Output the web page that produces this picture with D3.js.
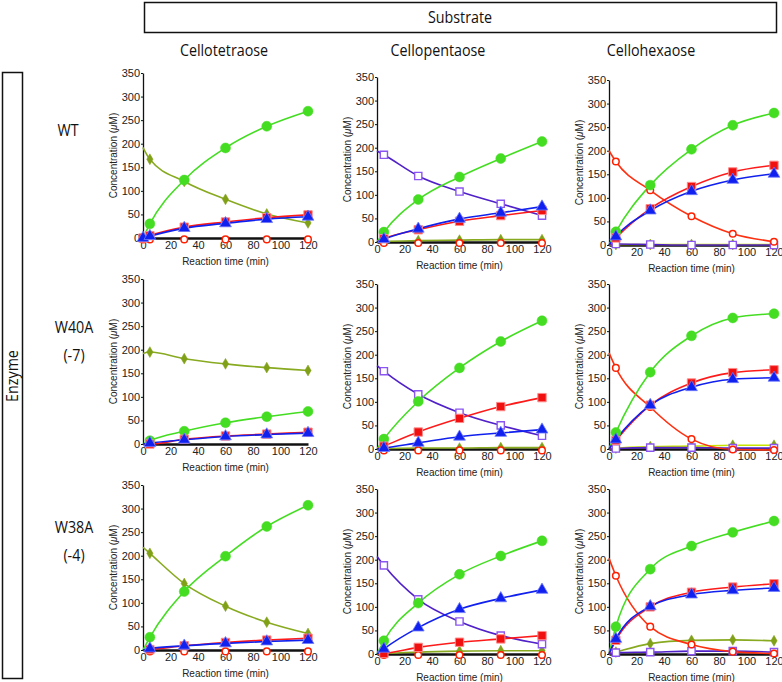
<!DOCTYPE html>
<html>
<head>
<meta charset="utf-8">
<script src="https://cdn.jsdelivr.net/npm/d3@7"></script>
<style>
  body { margin: 0; background: #fff; }
  svg { display: block; }
  .tick text { font-family: "Liberation Sans", Arial, sans-serif; font-size: 11px; fill: #222; }
  .ax-label { font-family: "Liberation Sans", Arial, sans-serif; font-size: 10px; fill: #222; }
  .big { font-family: "Liberation Sans Narrow", "Open Sans", sans-serif; font-size: 17px; fill: #111; }
</style>
</head>
<body>
<div id="chart"></div>
<script>
// sampling times (min); markers from 5 min, fitted line from 0
const times = [0, 5, 30, 60, 90, 120]
const substrates = ['Cellotetraose', 'Cellopentaose', 'Cellohexaose']
const enzymes = ['WT', 'W40A', 'W38A']
const enzymeNotes = ['', '(-7)', '(-4)']
const xTicks = [0, 20, 40, 60, 80, 100, 120]
const yTicks = [0, 50, 100, 150, 200, 250, 300, 350]

// concentrations (uM), one object per enzyme x substrate panel
const wtG4 = {
  G4: [192, 167, 120, 82, 51, 32],
  G6: [-3, -3, -3, -3, -3, -3],
  G2: [0, 30, 123, 191, 237, 269],
  G1: [0, 5, 23, 34, 43, 49],
  G3: [0, 4, 21, 31, 40, 45]
}
const wtG5 = {
  G4: [0, 1, 3, 4, 5, 5],
  G5: [193, 185, 140, 107, 81, 56],
  G6: [-2, -2, -2, -2, -2, -2],
  G2: [0, 21, 90, 138, 177, 213],
  G1: [0, 7, 26, 44, 56, 67],
  G3: [0, 6, 28, 49, 62, 75]
}
const wtG6 = {
  G4: [0, 1, 1, 1, 1, 1],
  G5: [0, 2, 1, 0, 0, 0],
  G6: [200, 177, 116, 61, 24, 7],
  G2: [0, 28, 127, 203, 254, 280],
  G1: [0, 15, 77, 124, 155, 169],
  G3: [0, 18, 73, 114, 138, 151]
}
const w40aG4 = {
  G4: [192, 195, 181, 170, 162, 156],
  G2: [0, 7, 27, 45, 58, 69],
  G1: [0, 0, 10, 17, 21, 25],
  G3: [0, 2, 9, 16, 20, 23]
}
const w40aG5 = {
  G4: [0, 1, 2, 2, 3, 3],
  G5: [177, 165, 116, 77, 50, 28],
  G6: [-3, -3, -3, -3, -3, -3],
  G2: [0, 21, 101, 172, 228, 272],
  G1: [0, 6, 36, 65, 90, 109],
  G3: [0, 2, 13, 26, 34, 41]
}
const w40aG6 = {
  G4: [0, 2, 5, 6, 8, 8],
  G5: [0, 1, 3, 3, 2, 2],
  G6: [204, 172, 89, 21, -1, -2],
  G2: [0, 35, 163, 240, 278, 287],
  G1: [0, 18, 93, 140, 162, 168],
  G3: [0, 20, 93, 131, 148, 151]
}
const w38aG4 = {
  G4: [218, 205, 141, 93, 59, 35],
  G6: [-3, -3, -3, -3, -3, -3],
  G2: [0, 27, 124, 199, 262, 307],
  G1: [0, 1, 9, 16, 21, 25],
  G3: [0, 3, 9, 14, 18, 21]
}
const w38aG5 = {
  G4: [0, 1, 4, 6, 7, 7],
  G5: [207, 188, 116, 69, 39, 21],
  G6: [-2, -2, -2, -2, -2, -2],
  G2: [0, 28, 108, 169, 208, 240],
  G1: [0, 1, 14, 25, 32, 39],
  G3: [0, 11, 56, 95, 118, 136]
}
const w38aG6 = {
  G4: [0, 4, 22, 29, 30, 28],
  G5: [0, 3, 4, 6, 6, 4],
  G6: [203, 166, 58, 20, 5, 1],
  G2: [0, 58, 180, 229, 258, 282],
  G1: [0, 29, 100, 131, 142, 149],
  G3: [0, 32, 101, 126, 135, 140]
}
const panels = [
  [wtG4, wtG5, wtG6],
  [w40aG4, w40aG5, w40aG6],
  [w38aG4, w38aG5, w38aG6]
]

const width = 782
const height = 682
const colLeft = [143, 377, 609]
const rowTop = [[73, 77, 80], [279, 284, 284], [485, 489, 489]]
const plotW = 165
const plotH = 165

// marker / line look for each product
const styles = {
  G1: { line: '#ff1a1a', shape: d3.symbolSquare, size: 70, fill: '#f01010', stroke: '#ff8a8a', sw: 1 },
  G2: { line: '#44dd22', shape: d3.symbolCircle, size: 78, fill: '#44dd22', stroke: '#44dd22', sw: 0.5 },
  G3: { line: '#1020ee', shape: d3.symbolTriangle, size: 60, fill: '#1020ee', stroke: '#6f7bff', sw: 0.8 },
  G4: { line: '#88aa20', shape: d3.symbolDiamond, size: 34, fill: '#80a018', stroke: '#80a018', sw: 0.5 },
  G5: { line: '#5020c8', shape: d3.symbolSquare, size: 52, fill: '#fff', stroke: '#8a55f0', sw: 1.4 },
  G6: { line: '#ff3010', shape: d3.symbolCircle, size: 34, fill: '#fff', stroke: '#ff2000', sw: 1.5 }
}

const svg = d3.select('#chart').append('svg')
  .attr('width', width)
  .attr('height', height)

svg.append('rect').attr('width', width).attr('height', height).attr('fill', '#fff')

// squeeze the big labels to look like the condensed face of the original
function condense(sel) {
  sel.each(function() {
    const len = this.getComputedTextLength()
    d3.select(this).attr('textLength', len * 0.84).attr('lengthAdjust', 'spacingAndGlyphs')
  })
}

// header box
svg.append('rect')
  .attr('x', 144.5).attr('y', 2.5).attr('width', 632).attr('height', 30)
  .attr('fill', 'none').attr('stroke', '#111').attr('stroke-width', 1.5)
svg.append('text').attr('class', 'big')
  .attr('x', 460).attr('y', 23).attr('text-anchor', 'middle').text('Substrate')

const titleX = [224, 438, 651]
substrates.forEach((s, i) => {
  svg.append('text').attr('class', 'big')
    .attr('x', titleX[i]).attr('y', 56).attr('text-anchor', 'middle').text(s)
})

// enzyme box at left
svg.append('rect')
  .attr('x', 2.5).attr('y', 72.5).attr('width', 20).attr('height', 606)
  .attr('fill', 'none').attr('stroke', '#111').attr('stroke-width', 1.5)
svg.append('text').attr('class', 'big')
  .attr('transform', 'translate(18,376) rotate(-90)')
  .attr('text-anchor', 'middle').text('Enzyme')

const rowLabelY = [136, 333, 533]
enzymes.forEach((e, i) => {
  svg.append('text').attr('class', 'big')
    .attr('x', enzymeNotes[i] ? 74 : 68).attr('y', rowLabelY[i])
    .attr('text-anchor', 'middle').text(e)
  if (enzymeNotes[i]) {
    svg.append('text').attr('class', 'big')
      .attr('x', 74).attr('y', rowLabelY[i] + 28)
      .attr('text-anchor', 'middle').text(enzymeNotes[i])
  }
})

svg.selectAll('text.big').call(condense)

const order = ['G4', 'G5', 'G6', 'G2', 'G1', 'G3']

function drawPanel(r, c) {
  const data = panels[r][c]
  const left = colLeft[c]
  const top = rowTop[r][c]
  const x = d3.scaleLinear().domain([0, 120]).range([left, left + plotW])
  const y = d3.scaleLinear().domain([0, 350]).range([top + plotH, top])
  const g = svg.append('g')

  const yAxis = g.append('g')
    .attr('transform', `translate(${left},0)`)
    .call(d3.axisLeft(y).tickValues(yTicks).tickSize(2).tickSizeOuter(0).tickPadding(1))
  yAxis.select('.domain').attr('stroke', '#111').attr('stroke-width', 1.3)
  yAxis.selectAll('.tick line').attr('stroke', '#111')

  const xAxis = g.append('g')
    .attr('transform', `translate(0,${top + plotH})`)
    .call(d3.axisBottom(x).tickValues(xTicks).tickSize(0).tickSizeOuter(0).tickPadding(3))
  xAxis.select('.domain').attr('stroke', '#111').attr('stroke-width', 2.5)

  g.append('text').attr('class', 'ax-label')
    .attr('x', left + plotW / 2).attr('y', top + plotH + 27)
    .attr('text-anchor', 'middle').text('Reaction time (min)')

  const yl = g.append('text').attr('class', 'ax-label')
    .attr('transform', `translate(${left - 26},${top + plotH / 2}) rotate(-90)`)
    .attr('text-anchor', 'middle')
  yl.append('tspan').text('Concentration (')
  yl.append('tspan').attr('font-style', 'italic').text('\u03bc')
  yl.append('tspan').text('M)')

  const line = d3.line()
    .x((d, i) => x(times[i]))
    .y(d => y(d))
    .curve(d3.curveMonotoneX)

  order.forEach(key => {
    const vals = data[key]
    if (!vals) return
    const st = styles[key]
    let lineColor = st.line
    if (key === 'G4' && c === 2 && r < 2) lineColor = '#c8e400'
    if (d3.max(vals) > 0) {
      g.append('path')
        .datum(vals)
        .attr('d', line)
        .attr('fill', 'none')
        .attr('stroke', lineColor)
        .attr('stroke-width', 1.6)
    }
  })

  order.forEach(key => {
    const vals = data[key]
    if (!vals) return
    const st = styles[key]
    const pts = vals.map((v, i) => ({ t: times[i], v }))
      .filter(d => d.t > 0 || (r === 0 && c === 0 && (key === 'G6' || key === 'G1' || key === 'G3')))
    g.selectAll(null)
      .data(pts)
      .enter()
      .append('path')
      .attr('transform', d => `translate(${x(d.t)},${y(d.v)})`)
      .attr('d', d3.symbol().type(st.shape).size(st.size))
      .attr('fill', st.fill)
      .attr('stroke', st.stroke)
      .attr('stroke-width', st.sw)
  })
}

for (let r = 0; r < 3; r++) {
  for (let c = 0; c < 3; c++) drawPanel(r, c)
}
</script>
</body>
</html>
